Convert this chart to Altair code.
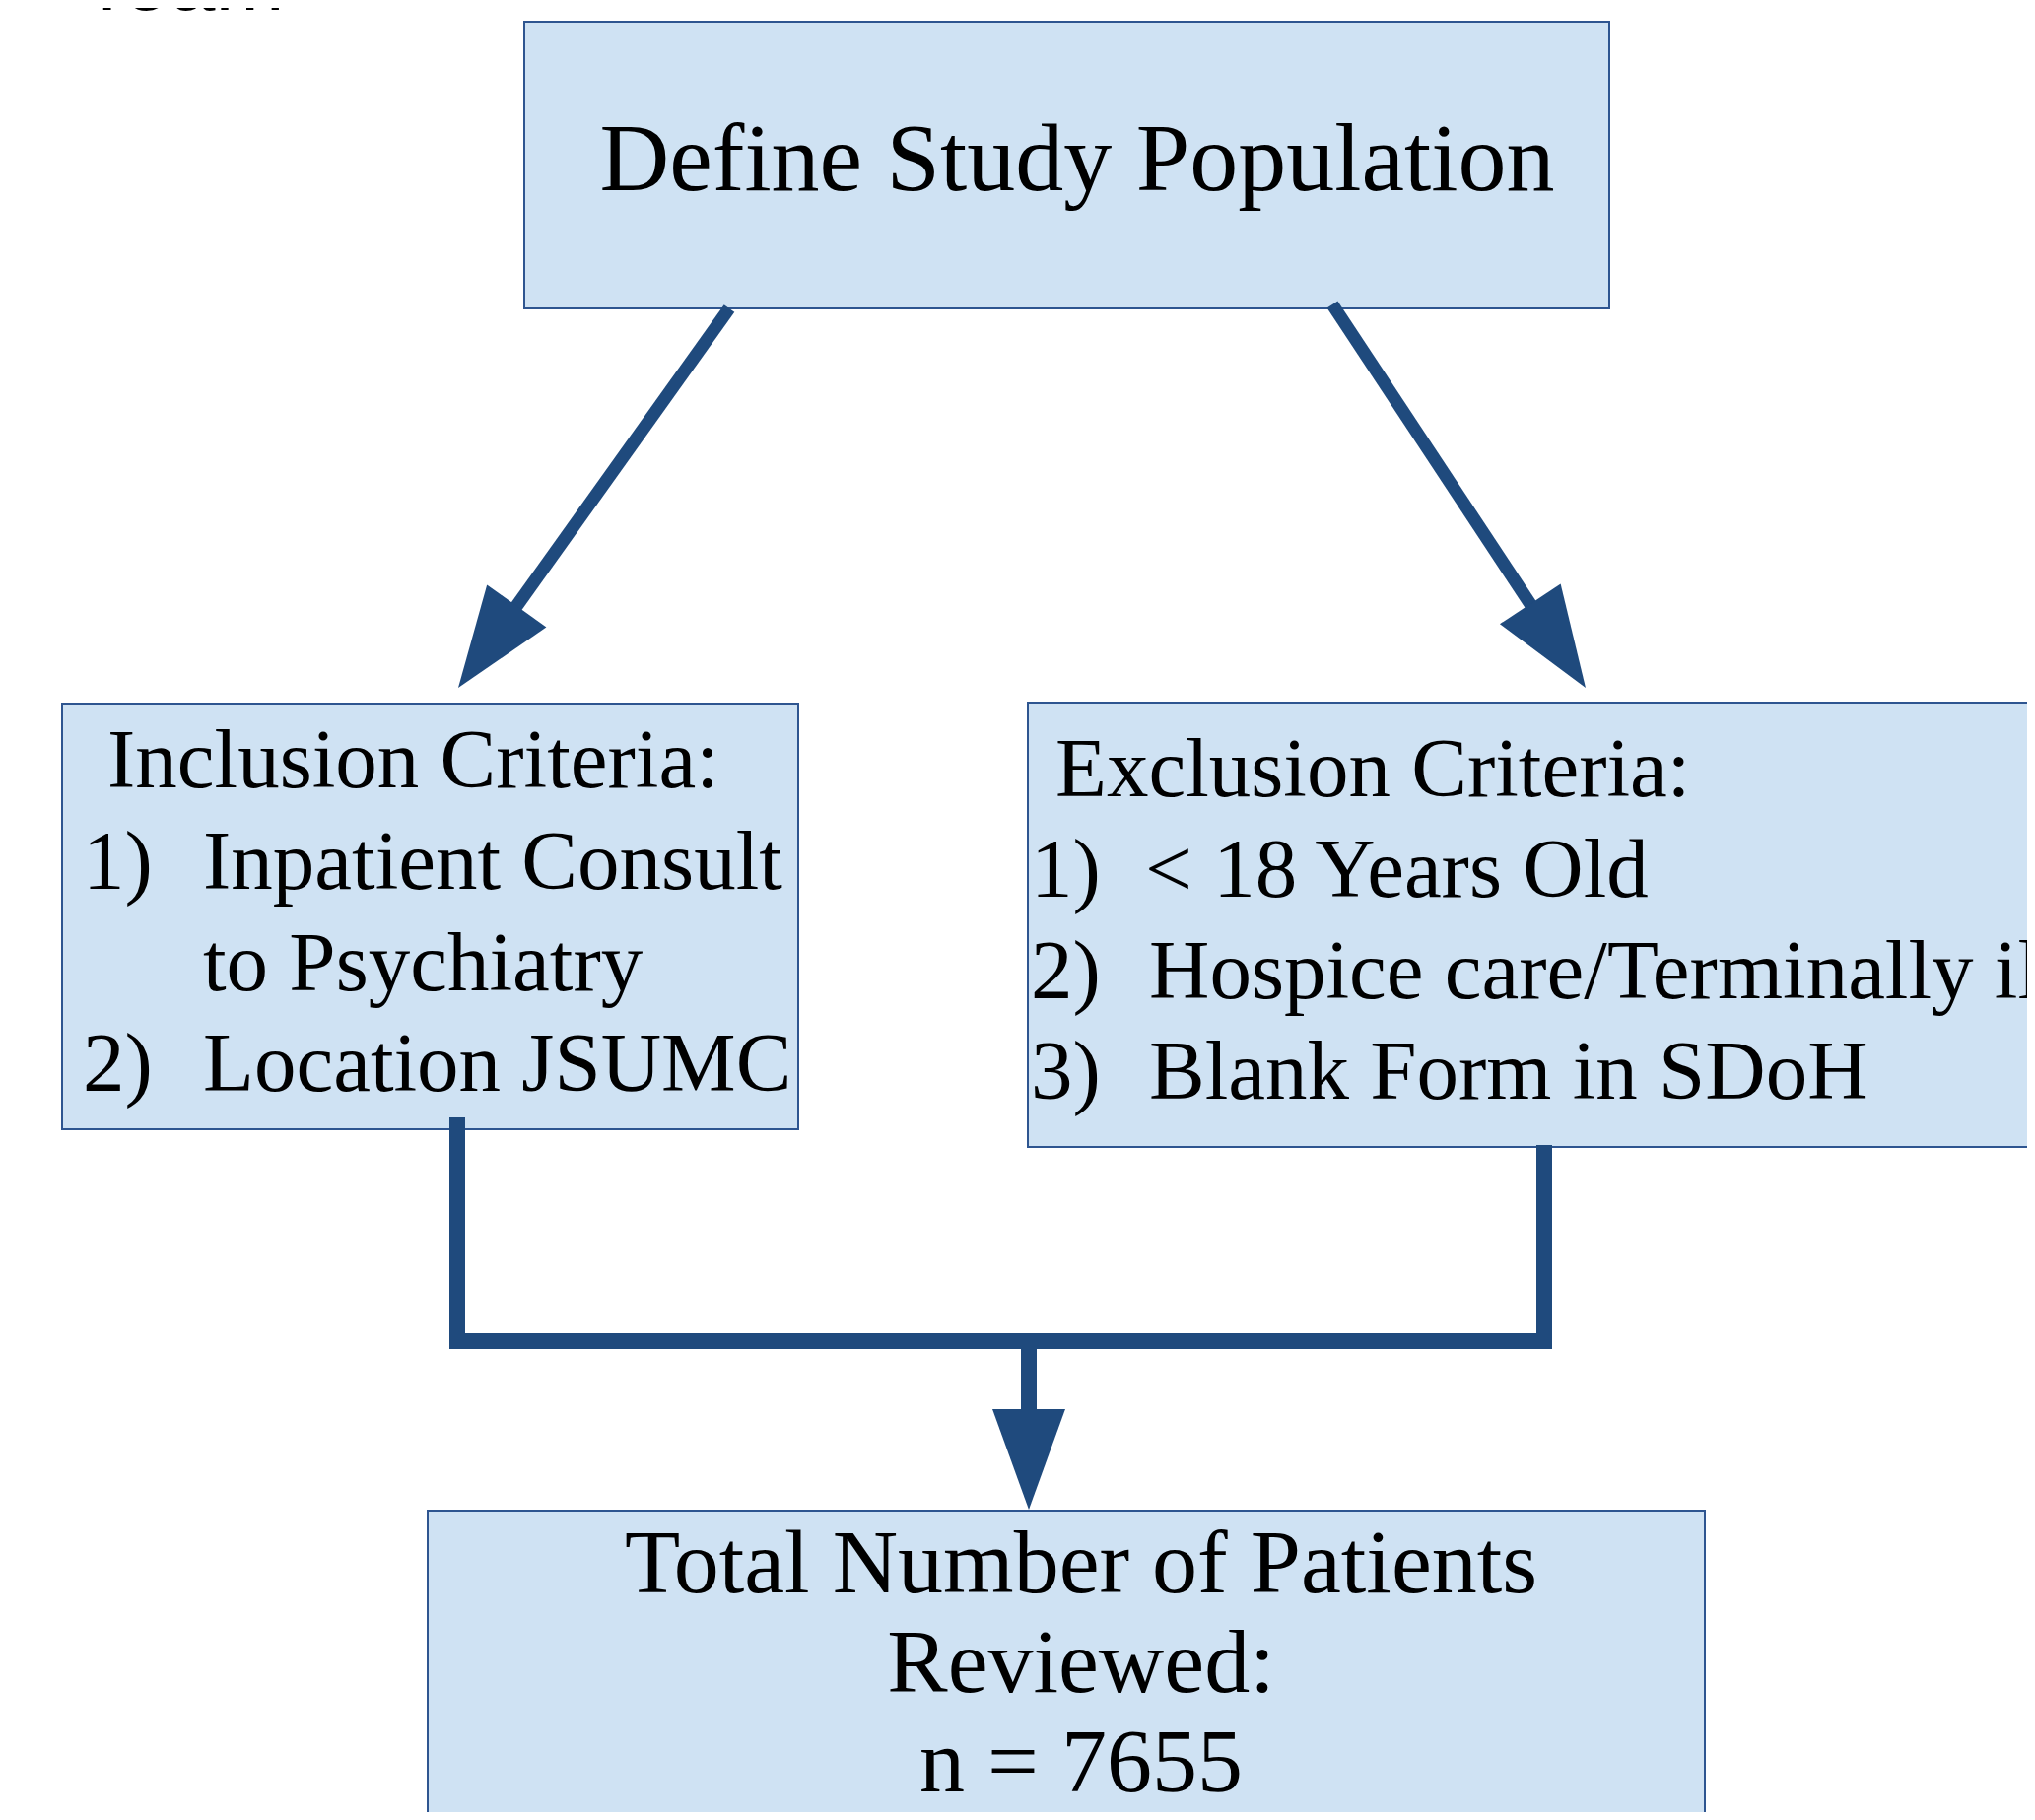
import math
import altair as alt
import pandas as pd

# ---------------- data (screen pixel coordinates of the flowchart) ----------------
# Boxes
box_id = ["define", "inclusion", "exclusion", "total"]
box_x1 = [532, 63, 1043, 434]
box_x2 = [1633, 810, 2300, 1730]
box_y1 = [22, 714, 713, 1533]
box_y2 = [313, 1146, 1164, 1950]

# Left-aligned text lines (serif)
left_text = ["Inclusion Criteria:", "1)", "Inpatient Consult", "to Psychiatry", "2)", "Location JSUMC",
             "Exclusion Criteria:", "1)", "< 18 Years Old", "2)", "Hospice care/Terminally ill",
             "3)", "Blank Form in SDoH"]
left_x = [109, 84, 206, 206, 84, 206, 1071, 1046, 1162, 1046, 1166, 1046, 1166]
left_y = [799, 902, 902, 1005, 1107, 1107, 808, 910, 910, 1013, 1013, 1115, 1115]
left_size = [85] * len(left_text)

# Centered text lines (serif)
center_text = ["Define Study Population", "Total Number of Patients", "Reviewed:", "n = 7655"]
center_x = [1093, 1097, 1097, 1097]
center_y = [193, 1616, 1717, 1818]
center_size = [98, 92, 92, 92]

# Partially visible heading at the top-left
head_text = ["Team"]
head_x = [83]
head_y = [10]

# Arrows: start point and tip
arrow_x0 = [740, 1352, 1044]
arrow_y0 = [313, 309, 1361]
arrow_tip_x = [465, 1609, 1044]
arrow_tip_y = [698, 698, 1532]
arrow_shaft_w = [13, 13, 16]

# Elbow connector (inclusion -> bar -> exclusion)
conn_x = [464, 464, 1567, 1567]
conn_y = [1134, 1361, 1361, 1162]

# ---------------- styles ----------------
FILL = "#cfe2f3"
BORDER = "#2e5590"
ARROW = "#1f4a7d"
HEAD_LEN = 102
HEAD_W = 74
W, H = 2049, 1831
X0, Y0 = 8, 8

xs = alt.Scale(domain=[X0, X0 + W], nice=False, zero=False)
ys = alt.Scale(domain=[Y0, Y0 + H], nice=False, zero=False, reverse=True)

boxes = pd.DataFrame({"id": box_id, "x1": box_x1, "x2": box_x2, "y1": box_y1, "y2": box_y2})
ltxt = pd.DataFrame({"t": left_text, "x": left_x, "y": left_y, "fs": left_size})
ctxt = pd.DataFrame({"t": center_text, "x": center_x, "y": center_y, "fs": center_size})
htxt = pd.DataFrame({"t": head_text, "x": head_x, "y": head_y})

shaft_rows, head_rows = [], []
for x0, y0, tx, ty, w in zip(arrow_x0, arrow_y0, arrow_tip_x, arrow_tip_y, arrow_shaft_w):
    dx, dy = tx - x0, ty - y0
    L = math.hypot(dx, dy)
    ux, uy = dx / L, dy / L
    bx, by = tx - (HEAD_LEN - 6) * ux, ty - (HEAD_LEN - 6) * uy
    shaft_rows.append({"x": x0, "y": y0, "x2": bx, "y2": by, "w": w})
    cx, cy = tx - HEAD_LEN / 2 * ux, ty - HEAD_LEN / 2 * uy
    ang = math.degrees(math.atan2(-ux, uy)) % 360
    head_rows.append({"x": cx, "y": cy, "a": ang})
shafts = pd.DataFrame(shaft_rows)
heads = pd.DataFrame(head_rows)
conn = pd.DataFrame({"x": conn_x, "y": conn_y, "o": list(range(len(conn_x)))})

rect_layer = alt.Chart(boxes).mark_rect(fill=FILL, stroke=BORDER, strokeWidth=2, clip=True).encode(
    x=alt.X("x1:Q", scale=xs, axis=None), x2="x2:Q",
    y=alt.Y("y1:Q", scale=ys, axis=None), y2="y2:Q",
)

shaft_layer = alt.Chart(shafts).mark_rule(color=ARROW, strokeCap="butt").encode(
    x=alt.X("x:Q", scale=xs, axis=None), x2="x2:Q",
    y=alt.Y("y:Q", scale=ys, axis=None), y2="y2:Q",
    strokeWidth=alt.StrokeWidth("w:Q", scale=None),
)

conn_layer = alt.Chart(conn).mark_line(color=ARROW, strokeWidth=16, strokeJoin="miter", strokeCap="butt").encode(
    x=alt.X("x:Q", scale=xs, axis=None),
    y=alt.Y("y:Q", scale=ys, axis=None),
    order="o:Q",
)

head_shape = "M -%.3f -1 L %.3f -1 L 0 1 Z" % (HEAD_W / HEAD_LEN, HEAD_W / HEAD_LEN)
head_layer = alt.Chart(heads).mark_point(
    shape=head_shape, filled=True, fill=ARROW, color=ARROW, strokeWidth=0, opacity=1, size=HEAD_LEN ** 2
).encode(
    x=alt.X("x:Q", scale=xs, axis=None),
    y=alt.Y("y:Q", scale=ys, axis=None),
    angle=alt.Angle("a:Q", scale=None),
)

left_layer = alt.Chart(ltxt).mark_text(
    font="Liberation Serif", align="left", baseline="alphabetic", color="#000000", clip=True
).encode(
    x=alt.X("x:Q", scale=xs, axis=None),
    y=alt.Y("y:Q", scale=ys, axis=None),
    text="t:N",
    size=alt.Size("fs:Q", scale=None),
)

center_layer = alt.Chart(ctxt).mark_text(
    font="Liberation Serif", align="center", baseline="alphabetic", color="#000000", clip=True
).encode(
    x=alt.X("x:Q", scale=xs, axis=None),
    y=alt.Y("y:Q", scale=ys, axis=None),
    text="t:N",
    size=alt.Size("fs:Q", scale=None),
)

head_text_layer = alt.Chart(htxt).mark_text(
    font="Liberation Sans", fontSize=84, align="left", baseline="alphabetic", color="#000000"
).encode(
    x=alt.X("x:Q", scale=xs, axis=None),
    y=alt.Y("y:Q", scale=ys, axis=None),
    text="t:N",
)

chart = alt.layer(
    rect_layer, shaft_layer, conn_layer, head_layer, left_layer, center_layer, head_text_layer
).properties(
    width=W, height=H, autosize=alt.AutoSizeParams(type="none"), padding=0, background="white"
).configure_view(strokeWidth=0)

chart.save("out.html", embed_options={"renderer": "svg", "actions": False})
